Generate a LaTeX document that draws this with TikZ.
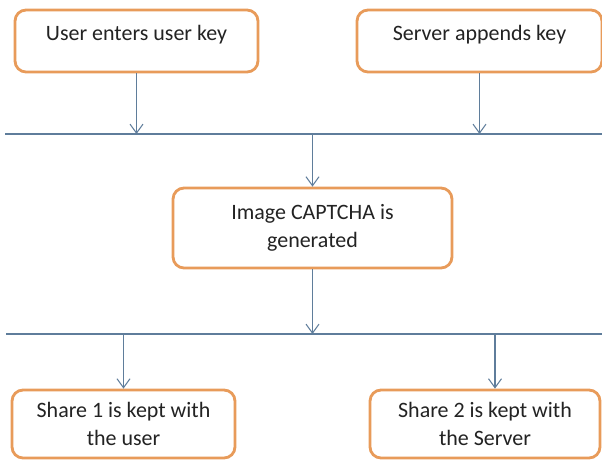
\documentclass[tikz,border=0pt]{standalone}
\usepackage{fontspec}
\setmainfont{Carlito}
\usepackage{xcolor}
\usetikzlibrary{arrows.meta, positioning}
\definecolor{boxorange}{RGB}{232,155,90}
\definecolor{linkblue}{RGB}{95,125,155}
\definecolor{textgray}{RGB}{35,35,35}

\begin{document}
\begin{tikzpicture}[x=0.02cm, y=-0.02cm, >={Straight Barb[length=1.8mm, width=2.6mm]},
    stepbox/.style={draw=boxorange, line width=1.6pt, rounded corners=2.2mm, fill=white,
      align=center, text=textgray, font=\fontsize{12.5}{16}\selectfont},
    topbox/.style={stepbox, inner ysep=0pt, text height=0.6cm, text depth=0.64cm},
    link/.style={draw=linkblue, line width=0.6pt}]
    \useasboundingbox (0,0) rectangle (602,464);

    % Steps
    \node[topbox, minimum width=4.86cm] (userkey) at (136.5,41) {User enters user key};
    \node[topbox, minimum width=4.9cm] (serverkey) at (479.5,41) {Server appends key};
    \node[stepbox, minimum width=5.58cm, minimum height=1.6cm] (captcha) at (312.5,228) {Image CAPTCHA is\\generated};
    \node[stepbox, minimum width=4.46cm, minimum height=1.36cm] (share1) at (123.5,424) {Share 1 is kept with\\the user};
    \node[stepbox, minimum width=4.6cm, minimum height=1.36cm] (share2) at (485,424) {Share 2 is kept with\\the Server};

    % Bus lines
    \coordinate (bus1w) at (5,134);
    \coordinate (bus1e) at (602,134);
    \coordinate (bus2w) at (6,334);
    \coordinate (bus2e) at (602,334);
    \coordinate (tap2) at (495,334);
    \draw[link] (bus1w) -- (bus1e);
    \draw[link] (bus2w) -- (bus2e);

    % Arrows
    \draw[link, ->] (userkey) -- (userkey |- bus1w);
    \draw[link, ->] (serverkey) -- (serverkey |- bus1w);
    \draw[link, ->] (captcha |- bus1w) -- (captcha);
    \draw[link, ->] (captcha) -- (captcha |- bus2w);
    \draw[link, ->] (share1 |- bus2w) -- (share1);
    \draw[link, ->] (tap2) -- (tap2 |- share2.north);
\end{tikzpicture}
\end{document}
